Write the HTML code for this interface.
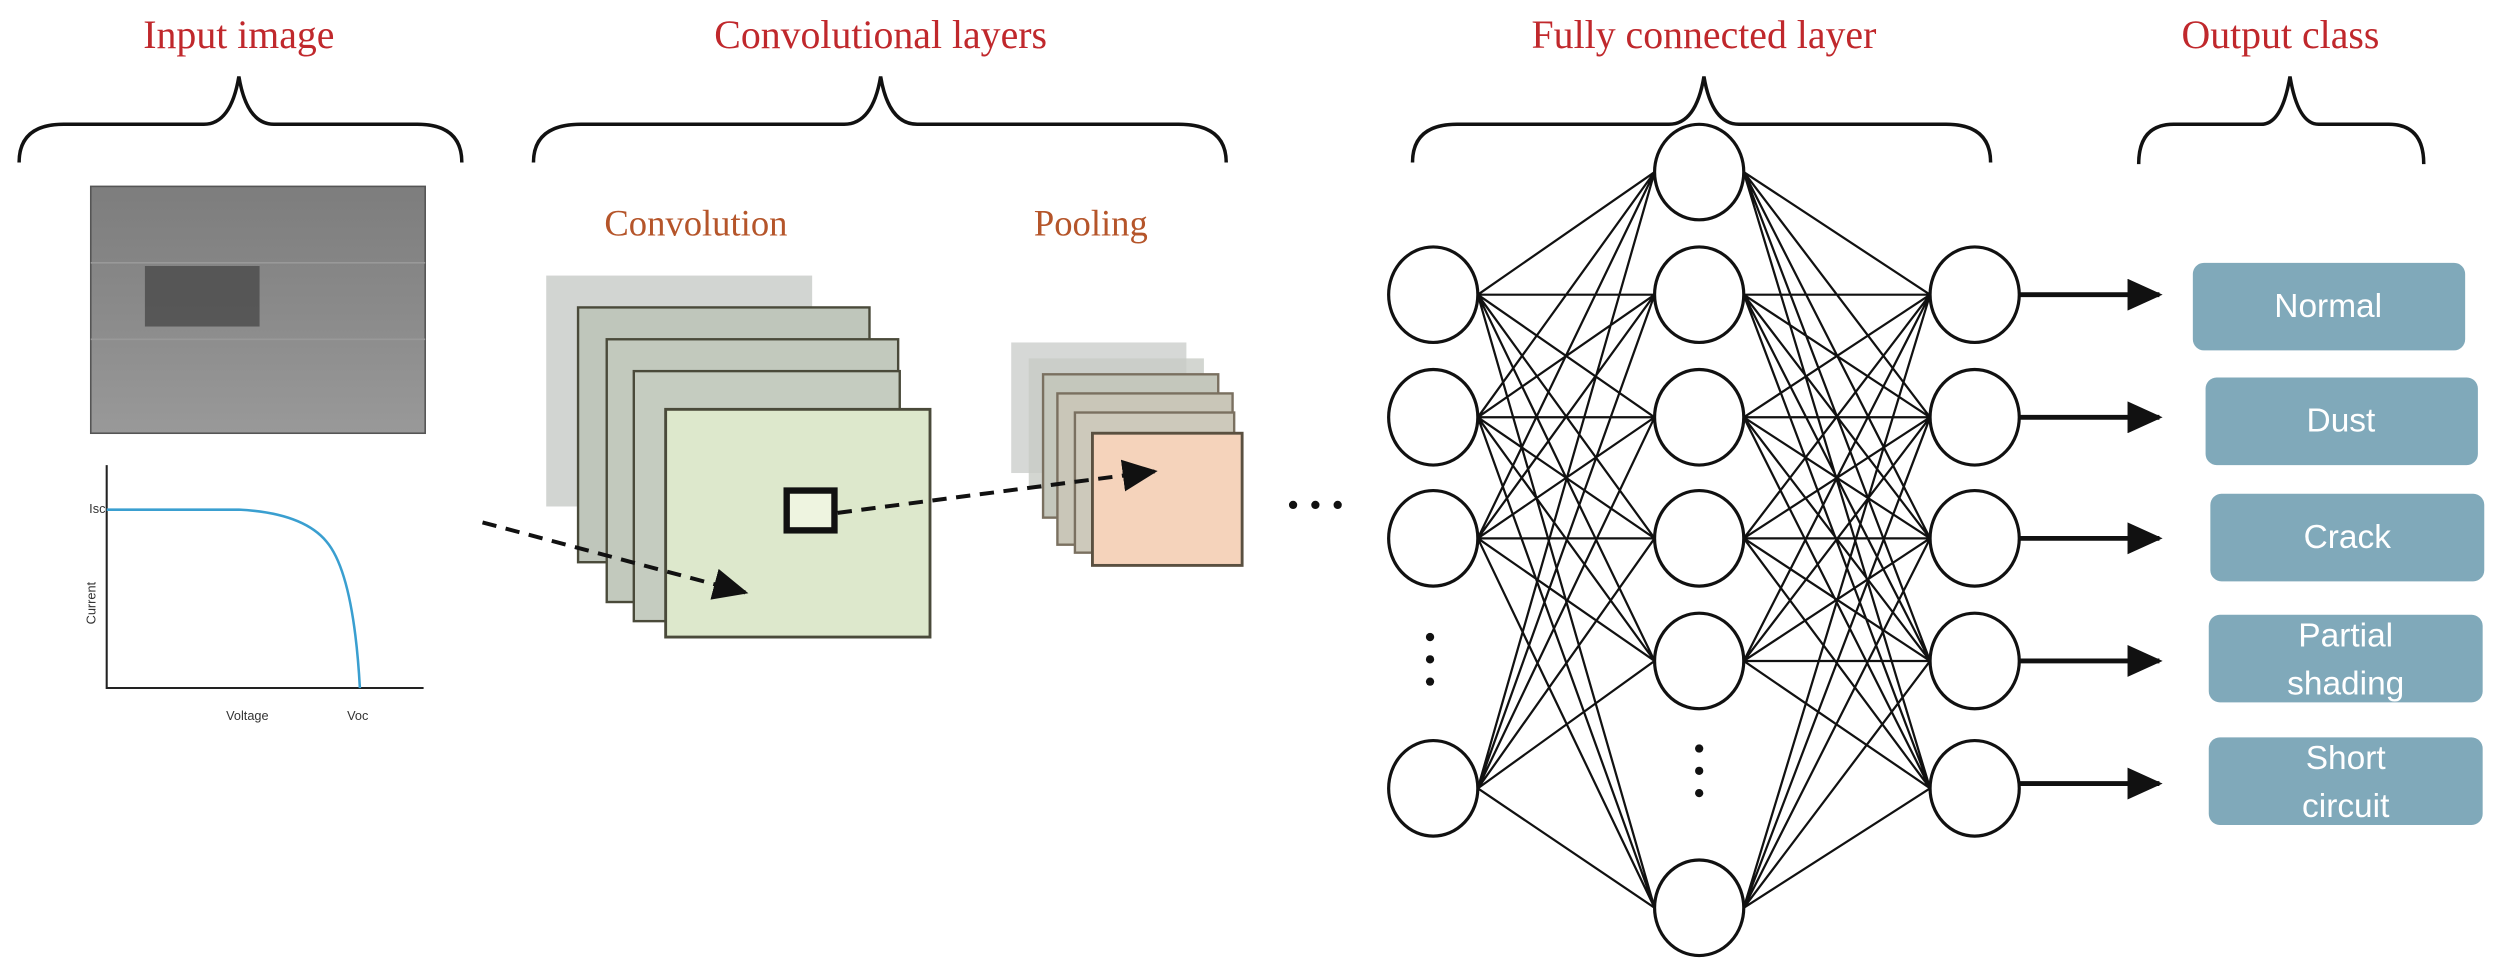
<!DOCTYPE html>
<html><head><meta charset="utf-8"><style>html,body{margin:0;padding:0;background:#fff}svg{display:block}</style></head>
<body>
<svg width="2497" height="962" viewBox="0 0 1568 604" xmlns="http://www.w3.org/2000/svg">
<defs>
<marker id="ah" markerWidth="10" markerHeight="10" refX="9" refY="5" orient="auto" markerUnits="userSpaceOnUse"><path d="M0,0 L10,5 L0,10z" fill="#111"/></marker>
<marker id="ah2" markerWidth="22" markerHeight="20" refX="20" refY="10" orient="auto" markerUnits="userSpaceOnUse"><path d="M0,0 L22,10 L0,20z" fill="#111"/></marker>
<linearGradient id="gimg" x1="0" y1="0" x2="0" y2="1"><stop offset="0" stop-color="#7d7d7d"/><stop offset="0.5" stop-color="#8a8a8a"/><stop offset="1" stop-color="#999"/></linearGradient>
</defs>
<g font-family="Liberation Serif, serif" fill="#c0282c" font-size="25" text-anchor="middle">
<text x="150" y="30">Input image</text>
<text x="553" y="30">Convolutional layers</text>
<text x="1070" y="30">Fully connected layer</text>
<text x="1432" y="30">Output class</text>
</g>
<g fill="none" stroke="#111" stroke-width="2.2">
<path d="M12,102 Q12,78 40,78 L128,78 Q145,78 150,48 Q155,78 172,78 L262,78 Q290,78 290,102"/>
<path d="M335,102 Q335,78 365,78 L530,78 Q548,78 553,48 Q558,78 576,78 L740,78 Q770,78 770,102"/>
<path d="M887,102 Q887,78 915,78 L1048,78 Q1065,78 1070,48 Q1075,78 1092,78 L1222,78 Q1250,78 1250,102"/>
<path d="M1343,103 Q1343,78 1365,78 L1420,78 Q1433,78 1438,48 Q1443,78 1456,78 L1500,78 Q1522,78 1522,103"/>
</g>
<!-- input image -->
<rect x="57" y="117" width="210" height="155" fill="url(#gimg)" stroke="#555" stroke-width="1"/>
<line x1="57" y1="165" x2="267" y2="165" stroke="#999" stroke-width="1"/>
<line x1="57" y1="213" x2="267" y2="213" stroke="#999" stroke-width="1"/>
<rect x="91" y="167" width="72" height="38" fill="#4e4e4e" opacity="0.85"/>
<!-- plot -->
<g stroke="#222" stroke-width="1.3" fill="none"><path d="M67,292 L67,432 L266,432"/></g>
<path d="M67,320 L150,320 Q190,322 205,340 Q222,360 226,432" stroke="#3a9fd0" stroke-width="1.6" fill="none"/>
<g font-family="Liberation Sans, sans-serif" font-size="8" fill="#333"><text x="142" y="452">Voltage</text><text x="218" y="452">Voc</text><text x="56" y="322">Isc</text><text x="0" y="0" transform="translate(60,392) rotate(-90)">Current</text></g>
<!-- conv stack -->
<rect x="343" y="173" width="167" height="145" fill="#d2d5d2"/>
<rect x="363" y="193" width="183" height="160" fill="#bfc6bb" stroke="#4a4a3a" stroke-width="1.5"/>
<rect x="381" y="213" width="183" height="165" fill="#c2c9bd" stroke="#4a4a3a" stroke-width="1.5"/>
<rect x="398" y="233" width="167" height="157" fill="#c5ccc0" stroke="#4a4a3a" stroke-width="1.5"/>
<rect x="418" y="257" width="166" height="143" fill="#dde8cc" stroke="#4a4a3a" stroke-width="1.8"/>
<rect x="494" y="308" width="30" height="25" fill="#eef4e0" stroke="#111" stroke-width="4"/>
<line x1="303" y1="328" x2="468" y2="372" stroke="#111" stroke-width="2.5" stroke-dasharray="9,6" marker-end="url(#ah2)"/>
<!-- pooling -->
<rect x="635" y="215" width="110" height="82" fill="#d6d8d6"/>
<rect x="646" y="225" width="110" height="82" fill="#c8ccc6" opacity="0.8"/>
<rect x="655" y="235" width="110" height="90" fill="#c4c7bc" stroke="#7a7060" stroke-width="1.5"/>
<rect x="664" y="247" width="110" height="95" fill="#c9c6b8" stroke="#7a7060" stroke-width="1.5"/>
<rect x="675" y="259" width="100" height="88" fill="#cdc9bb" stroke="#7a7060" stroke-width="1.5"/>
<rect x="686" y="272" width="94" height="83" fill="#f5d3bb" stroke="#5a5040" stroke-width="1.8"/>
<line x1="526" y1="322" x2="725" y2="296" stroke="#111" stroke-width="2.5" stroke-dasharray="9,6" marker-end="url(#ah2)"/>
<g font-family="Liberation Serif, serif" fill="#b5552a" font-size="23" text-anchor="middle"><text x="437" y="148">Convolution</text><text x="685" y="148">Pooling</text></g>
<g fill="#111"><circle cx="812" cy="317" r="2.6"/><circle cx="826" cy="317" r="2.6"/><circle cx="840" cy="317" r="2.6"/>
<circle cx="898" cy="400" r="2.6"/><circle cx="898" cy="414" r="2.6"/><circle cx="898" cy="428" r="2.6"/>
<circle cx="1067" cy="470" r="2.6"/><circle cx="1067" cy="484" r="2.6"/><circle cx="1067" cy="498" r="2.6"/></g>
<!-- NN lines -->
<g stroke="#111" stroke-width="1.4">
<!-- left to mid -->
<path d="M928,185L1039,108M928,185L1039,185M928,185L1039,262M928,185L1039,338M928,185L1039,415M928,185L1039,570
M928,262L1039,108M928,262L1039,185M928,262L1039,262M928,262L1039,338M928,262L1039,415M928,262L1039,570
M928,338L1039,108M928,338L1039,185M928,338L1039,262M928,338L1039,338M928,338L1039,415M928,338L1039,570
M928,495L1039,108M928,495L1039,185M928,495L1039,262M928,495L1039,338M928,495L1039,415M928,495L1039,570
M1095,108L1212,185M1095,108L1212,262M1095,108L1212,338M1095,108L1212,415M1095,108L1212,495
M1095,185L1212,185M1095,185L1212,262M1095,185L1212,338M1095,185L1212,415M1095,185L1212,495
M1095,262L1212,185M1095,262L1212,262M1095,262L1212,338M1095,262L1212,415M1095,262L1212,495
M1095,338L1212,185M1095,338L1212,262M1095,338L1212,338M1095,338L1212,415M1095,338L1212,495
M1095,415L1212,185M1095,415L1212,262M1095,415L1212,338M1095,415L1212,415M1095,415L1212,495
M1095,570L1212,185M1095,570L1212,262M1095,570L1212,338M1095,570L1212,415M1095,570L1212,495"/>
</g>
<g fill="#fff" stroke="#111" stroke-width="2">
<ellipse cx="900" cy="185" rx="28" ry="30"/><ellipse cx="900" cy="262" rx="28" ry="30"/><ellipse cx="900" cy="338" rx="28" ry="30"/><ellipse cx="900" cy="495" rx="28" ry="30"/>
<ellipse cx="1067" cy="108" rx="28" ry="30"/><ellipse cx="1067" cy="185" rx="28" ry="30"/><ellipse cx="1067" cy="262" rx="28" ry="30"/><ellipse cx="1067" cy="338" rx="28" ry="30"/><ellipse cx="1067" cy="415" rx="28" ry="30"/><ellipse cx="1067" cy="570" rx="28" ry="30"/>
<ellipse cx="1240" cy="185" rx="28" ry="30"/><ellipse cx="1240" cy="262" rx="28" ry="30"/><ellipse cx="1240" cy="338" rx="28" ry="30"/><ellipse cx="1240" cy="415" rx="28" ry="30"/><ellipse cx="1240" cy="495" rx="28" ry="30"/>
</g>
<g stroke="#111" stroke-width="3" marker-end="url(#ah2)">
<line x1="1268" y1="185" x2="1356" y2="185"/><line x1="1268" y1="262" x2="1356" y2="262"/><line x1="1268" y1="338" x2="1356" y2="338"/><line x1="1268" y1="415" x2="1356" y2="415"/><line x1="1268" y1="492" x2="1356" y2="492"/>
</g>
<g fill="#80a9ba">
<rect x="1377" y="165" width="171" height="55" rx="7"/><rect x="1385" y="237" width="171" height="55" rx="7"/><rect x="1388" y="310" width="172" height="55" rx="7"/><rect x="1387" y="386" width="172" height="55" rx="7"/><rect x="1387" y="463" width="172" height="55" rx="7"/>
</g>
<g font-family="Liberation Sans, sans-serif" fill="#fff" font-size="21" text-anchor="middle">
<text x="1462" y="199">Normal</text><text x="1470" y="271">Dust</text><text x="1474" y="344">Crack</text>
<text x="1473" y="406">Partial</text><text x="1473" y="436">shading</text>
<text x="1473" y="483">Short</text><text x="1473" y="513">circuit</text>
</g>
</svg>
</body></html>
